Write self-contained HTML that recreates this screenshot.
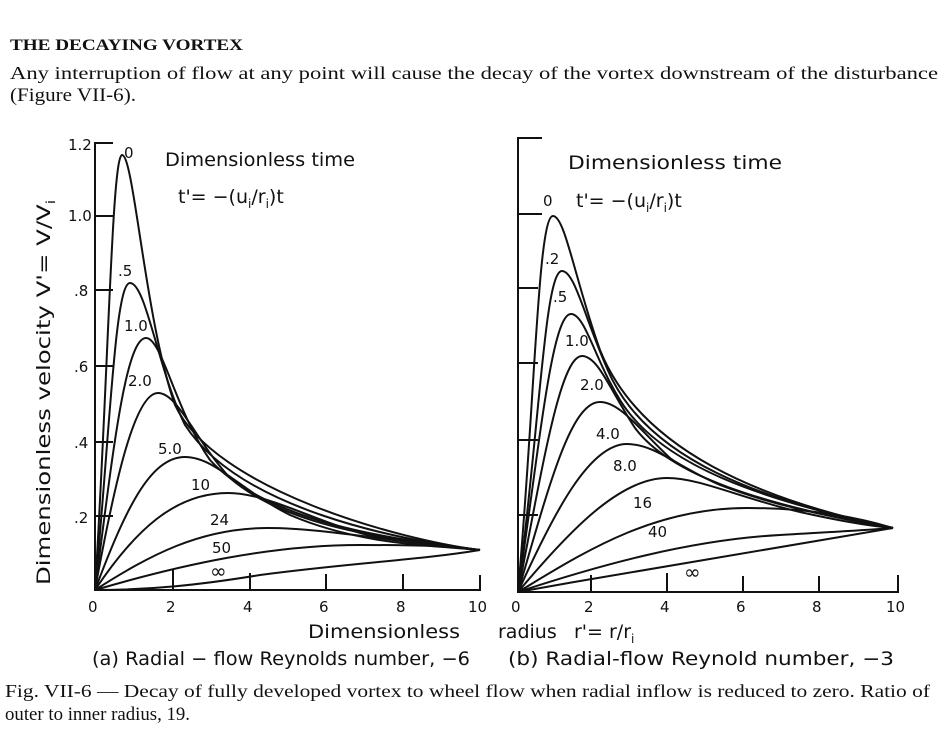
<!DOCTYPE html>
<html><head><style>
body{margin:0;background:#fff;width:944px;height:738px;overflow:hidden}
svg{position:absolute;left:0;top:0}
svg text{font-family:"DejaVu Sans","Liberation Sans",sans-serif;fill:#111}
svg text.s{font-family:"Liberation Serif",serif}
</style></head><body>
<svg width="944" height="738" viewBox="0 0 944 738">
<g font-size="18">
<text class="s" x="10" y="50" font-size="16" font-weight="bold" textLength="233" lengthAdjust="spacingAndGlyphs">THE DECAYING VORTEX</text>
<text class="s" x="10" y="79" textLength="928" lengthAdjust="spacingAndGlyphs">Any interruption of flow at any point will cause the decay of the vortex downstream of the disturbance</text>
<text class="s" x="10" y="101" font-size="19" textLength="126" lengthAdjust="spacingAndGlyphs">(Figure VII-6).</text>
<text class="s" x="5" y="697" textLength="925" lengthAdjust="spacingAndGlyphs">Fig. VII-6 — Decay of fully developed vortex to wheel flow when radial inflow is reduced to zero. Ratio of</text>
<text class="s" x="5" y="720" font-size="19" textLength="185" lengthAdjust="spacingAndGlyphs">outer to inner radius, 19.</text>
</g>
<g fill="none" stroke="#111" stroke-width="2">
<path d="M113,143 H95 V590 H480 V575"/>
<path d="M95,216 H113 M95,290 H113 M95,366 H113 M95,442 H113 M95,516 H113"/>
<path d="M173,590 V570 M250,590 V573 M326,590 V574 M403,590 V574"/>
<path d="M95,590 C108,380 112,155 122,155 C134,155 145,320 175,405 C215,490 400,540 480,550"/>
<path d="M95,590 C110,430 115,283 130,283 C146,283 158,370 185,425 C240,510 400,540 480,550"/>
<path d="M95,590 C112,460 125,338 146,338 C162,338 175,410 210,460 C270,525 400,540 480,550"/>
<path d="M95,590 C115,480 135,393 158,393 C178,393 195,440 230,478 C290,530 400,540 480,550"/>
<path d="M95,590 C125,510 150,457 185,457 C215,457 240,490 290,515 C360,545 430,545 480,550"/>
<path d="M95,590 C135,530 175,493 228,493 C270,493 320,525 380,538 C430,546 460,548 480,550"/>
<path d="M95,590 C150,555 200,528 268,528 C320,528 380,540 480,550"/>
<path d="M95,590 C180,565 270,545 360,545 C420,545 450,546 480,550"/>
<path d="M95,590 C150,590 200,585 260,575 C350,563 420,560 480,550"/>
<path d="M542,138 H518 V592 H898 V575"/>
<path d="M518,214 H542 M518,288 H538 M518,363 H538 M518,440 H538 M518,515 H538"/>
<path d="M591,592 V575 M667,592 V573 M743,592 V576 M819,592 V576"/>
<path d="M518,592 C535,400 538,216 553,216 C565,216 575,280 600,350 C640,450 760,500 893,528"/>
<path d="M518,592 C540,420 545,271 562,271 C575,271 585,320 610,375 C650,460 760,500 893,528"/>
<path d="M518,592 C540,440 552,314 571,314 C585,314 595,360 620,400 C660,465 760,500 893,528"/>
<path d="M518,592 C542,470 560,356 582,356 C598,356 610,390 635,428 C670,475 760,505 893,528"/>
<path d="M518,592 C548,490 570,402 600,402 C620,402 640,430 670,458 C710,488 800,512 893,528"/>
<path d="M518,592 C555,510 590,444 627,444 C655,444 680,468 720,485 C780,508 840,518 893,528"/>
<path d="M518,592 C570,530 620,478 667,478 C700,478 740,498 800,512 C840,521 870,526 893,528"/>
<path d="M518,592 C580,555 650,508 747,508 C800,508 850,515 893,528"/>
<path d="M518,592 C600,565 690,540 780,535 C830,532 870,530 893,528"/>
<path d="M518,592 C640,570 760,550 893,528"/>
</g>
<g font-size="15">
<text x="68" y="150">1.2</text><text x="68" y="221">1.0</text><text x="74" y="296">.8</text>
<text x="74" y="372">.6</text><text x="74" y="448">.4</text><text x="74" y="523">.2</text>
<text x="88" y="612">0</text><text x="166" y="612">2</text><text x="243" y="612">4</text>
<text x="319" y="612">6</text><text x="396" y="612">8</text><text x="468" y="612">10</text>
<text x="511" y="612">0</text><text x="584" y="612">2</text><text x="660" y="612">4</text>
<text x="736" y="612">6</text><text x="812" y="612">8</text><text x="886" y="612">10</text>
<text x="124" y="158">0</text><text x="118" y="276">.5</text><text x="124" y="331">1.0</text>
<text x="128" y="386">2.0</text><text x="158" y="454">5.0</text><text x="191" y="490">10</text>
<text x="210" y="525">24</text><text x="212" y="553">50</text><text x="210" y="578" font-size="20">∞</text>
<text x="545" y="264">.2</text><text x="553" y="302">.5</text><text x="565" y="346">1.0</text>
<text x="580" y="390">2.0</text><text x="596" y="439">4.0</text><text x="613" y="471">8.0</text>
<text x="633" y="508">16</text><text x="648" y="537">40</text><text x="684" y="579" font-size="20">∞</text>
<text x="543" y="206">0</text>
</g>
<g font-size="19">
<text x="165" y="166" textLength="190" lengthAdjust="spacingAndGlyphs">Dimensionless  time</text>
<text x="178" y="203">t'= −(u<tspan font-size="12" dy="5">i</tspan><tspan dy="-5">/r</tspan><tspan font-size="12" dy="5">i</tspan><tspan dy="-5">)t</tspan></text>
<text x="568" y="169" textLength="214" lengthAdjust="spacingAndGlyphs">Dimensionless   time</text>
<text x="576" y="207">t'= −(u<tspan font-size="12" dy="5">i</tspan><tspan dy="-5">/r</tspan><tspan font-size="12" dy="5">i</tspan><tspan dy="-5">)t</tspan></text>
<text x="308" y="638" textLength="152" lengthAdjust="spacingAndGlyphs">Dimensionless</text>
<text x="498" y="638">radius</text>
<text x="574" y="638">r'= r/r<tspan font-size="12" dy="5">i</tspan></text>
<text x="92" y="665" textLength="378" lengthAdjust="spacingAndGlyphs">(a)  Radial − flow Reynolds number, −6</text>
<text x="508" y="665" textLength="386" lengthAdjust="spacingAndGlyphs">(b)  Radial-flow Reynold number, −3</text>
<text transform="translate(50,585) rotate(-90)" textLength="385" lengthAdjust="spacingAndGlyphs">Dimensionless   velocity   V'= V/V<tspan font-size="12" dy="5">i</tspan></text>
</g>
</svg>
</body></html>
